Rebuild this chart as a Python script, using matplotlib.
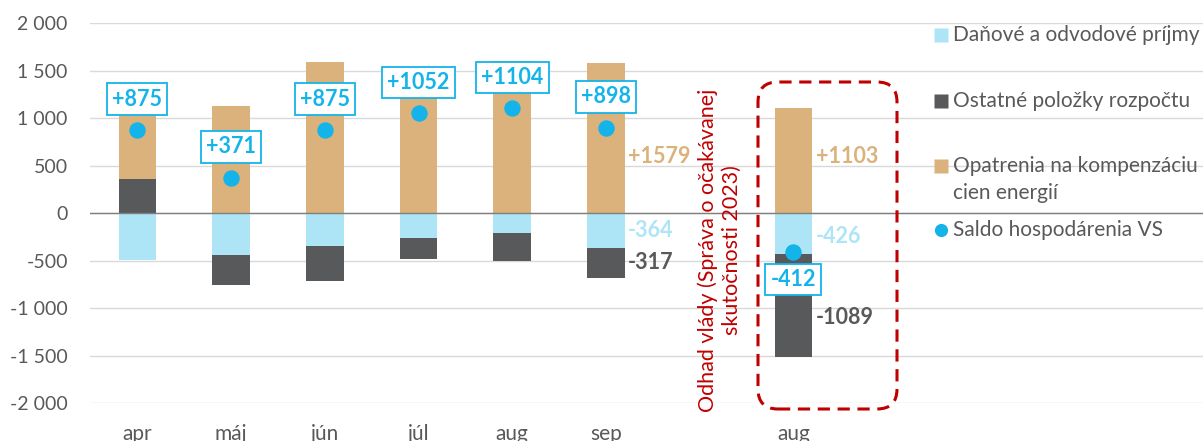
import matplotlib.pyplot as plt
from matplotlib.lines import Line2D
from matplotlib.patches import FancyBboxPatch

plt.rcParams['font.family'] = ['Lato', 'DejaVu Sans']

# data
mesiace = ['apr', 'máj', 'jún', 'júl', 'aug', 'sep', 'aug']
pozicie = [0, 1, 2, 3, 4, 5, 7]
danove = [-495, -442, -341, -267, -211, -364, -426]
ostatne = [361, -316, -379, -217, -291, -317, -1089]
opatrenia = [1009, 1129, 1595, 1536, 1606, 1579, 1103]
saldo = [875, 371, 875, 1052, 1104, 898, -412]
saldo_text = ['+875', '+371', '+875', '+1052', '+1104', '+898', '-412']

# popisky vpravo od stlpcov (index, y, text, typ)
bocne = [(5, 600, '+1579', 'opat'), (5, -185, '-364', 'dan'), (5, -525, '-317', 'ost'),
         (6, 600, '+1103', 'opat'), (6, -250, '-426', 'dan'), (6, -1100, '-1089', 'ost')]

c_dan = '#ADE5F7'
c_ost = '#58595B'
c_opat = '#DBB27B'
c_sal = '#14B4EA'
c_txt = '#595959'
farby = {'dan': c_dan, 'ost': c_txt, 'opat': c_opat}

fig = plt.figure(figsize=(12.03, 4.41), dpi=100)
ax = fig.add_axes([90 / 1203, 1 - 403 / 441, 1 - 90 / 1203, (403 - 23.3) / 441])

w = 0.4
ost_bottom = [0 if o > 0 else d for o, d in zip(ostatne, danove)]
opat_bottom = [o if o > 0 else 0 for o in ostatne]
ax.bar(pozicie, danove, w, color=c_dan, zorder=2)
ax.bar(pozicie, ostatne, w, bottom=ost_bottom, color=c_ost, zorder=2)
ax.bar(pozicie, opatrenia, w, bottom=opat_bottom, color=c_opat, zorder=2)
ax.scatter(pozicie, saldo, s=140, color=c_sal, zorder=4, linewidths=0)

for x, s, t in zip(pozicie, saldo, saldo_text):
    off = 22.3 if s > 0 else -19.5
    ax.annotate(t, (x, s), xytext=(0, off), textcoords='offset points', ha='center', va='center',
                fontsize=15.5, fontweight='bold', color=c_sal, zorder=5,
                bbox=dict(boxstyle='square,pad=0.24', fc='white', ec=c_sal, lw=1.3))

for i, y, t, k in bocne:
    ax.annotate(t, (pozicie[i] + w / 2, y), xytext=(2.5, 0), textcoords='offset points',
                ha='left', va='center', fontsize=15.5, fontweight='bold', color=farby[k])

ax.axhline(0, color='#7F7F7F', lw=1, zorder=3)
ax.set_ylim(-2000, 2000)
ax.set_xlim(-0.505, 11.37)
ax.set_yticks(range(-2000, 2001, 500))
ax.set_yticklabels([f'{v:,}'.replace(',', ' ') for v in range(-2000, 2001, 500)])
ax.set_xticks(pozicie)
ax.set_xticklabels(mesiace)
ax.tick_params(length=0, labelsize=14, labelcolor=c_txt)
ax.tick_params(axis='y', pad=16)
ax.tick_params(axis='x', pad=15, labelsize=15)
ax.grid(axis='y', color='#D9D9D9', lw=1, zorder=0)
ax.set_axisbelow(True)
for sp in ax.spines.values():
    sp.set_visible(False)

# cerveny ramik okolo odhadu
ram = FancyBboxPatch((7.58, 0.32), 1.39, 3.27, boxstyle='round,pad=0,rounding_size=0.2',
                     transform=fig.dpi_scale_trans, fill=False, ec='#C00000', lw=2.2,
                     linestyle=(0, (4, 2.5)), zorder=6)
fig.add_artist(ram)
fig.text(720 / 1203, 1 - 250 / 441, 'Odhad vlády (Správa o očakávanej\nskutočnosti 2023)',
         rotation=90, ha='center', va='center', color='#C00000', fontsize=15.5, linespacing=1.25)

# legenda
leg = [('Daňové a odvodové príjmy', c_dan, 's', 35),
       ('Ostatné položky rozpočtu', c_ost, 's', 100.7),
       ('Opatrenia na kompenzáciu', c_opat, 's', 165.7),
       ('Saldo hospodárenia VS', c_sal, 'o', 230)]
for t, c, m, y in leg:
    fy = 1 - y / 441
    fig.add_artist(Line2D([941 / 1203], [fy], marker=m, ms=9.5, color=c, mec='none',
                          transform=fig.transFigure))
    fig.text(953 / 1203, fy, t, ha='left', va='center', fontsize=15, color=c_txt)
fig.text(953 / 1203, 1 - 193 / 441, 'cien energií', ha='left', va='center', fontsize=15, color=c_txt)

fig.savefig('out.png', dpi=100)
